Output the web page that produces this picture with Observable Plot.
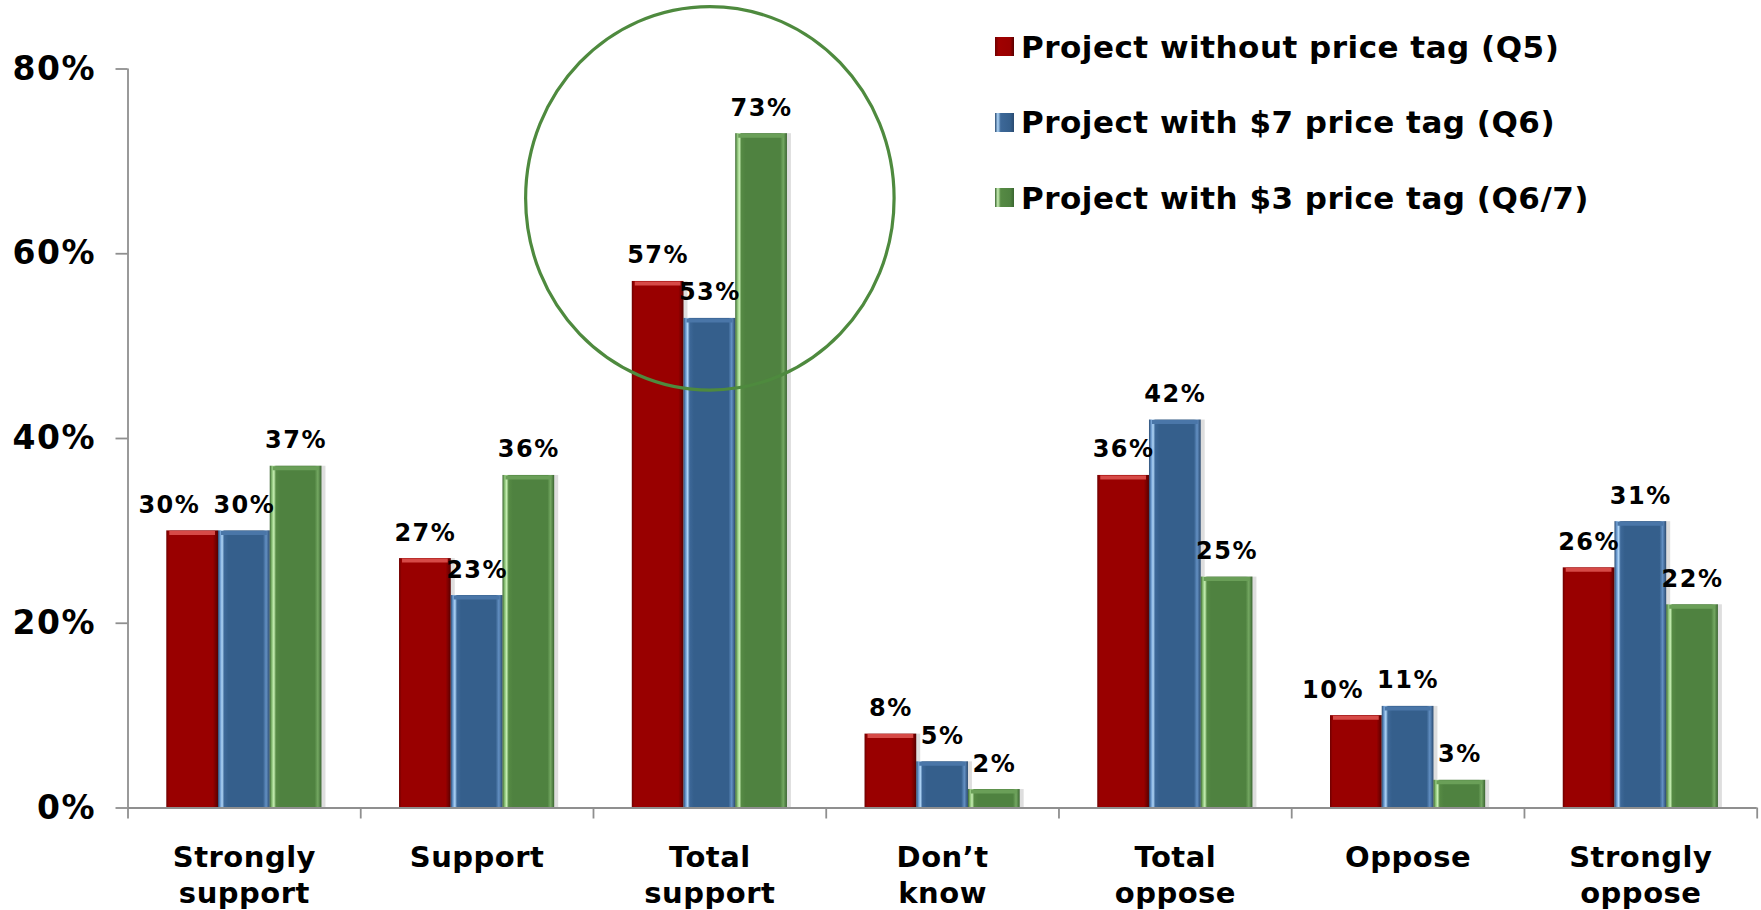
<!DOCTYPE html>
<html><head><meta charset="utf-8">
<script src="https://cdn.jsdelivr.net/npm/d3@7"></script>
<script src="https://cdn.jsdelivr.net/npm/@observablehq/plot@0.6"></script>
<style>
html,body{margin:0;padding:0;background:#fff;}
#wrap{position:relative;width:1761px;height:910px;font-family:"DejaVu Sans",sans-serif;font-weight:bold;}
#legend{position:absolute;left:995px;top:9px;}
.row{display:flex;align-items:center;height:75.5px;font-size:31px;letter-spacing:0.5px;color:#000;white-space:nowrap;}
.sw{width:19px;height:19px;margin-right:7px;box-sizing:border-box;}
</style></head><body>
<div id="wrap"><div id="legend"></div></div>
<script>
// ---- data ----
const categories = ["Strongly support", "Support", "Total support", "Don’t know", "Total oppose", "Oppose", "Strongly oppose"];
const tickLabels = ["Strongly\nsupport", "Support", "Total\nsupport", "Don’t\nknow", "Total\noppose", "Oppose", "Strongly\noppose"];
const seriesNames = ["Project without price tag (Q5)", "Project with $7 price tag (Q6)", "Project with $3 price tag (Q6/7)"];
const withoutPriceTag = [30, 27, 57, 8, 36, 10, 26];
const with7PriceTag = [30, 23, 53, 5, 42, 11, 31];
const with3PriceTag = [37, 36, 73, 2, 25, 3, 22];
const yTicks = [0, 20, 40, 60, 80];
const highlight = [{category: "Total support", value: 66}];

// ---- styles ----
const axisGray = "#8f8f8f";
const gradients = [
  [[0,"#6e0000"],[0.05,"#990000"],[0.9,"#990000"],[0.95,"#7a0000"],[1,"#560000"]],
  [[0,"#2a4b72"],[0.04,"#6796cc"],[0.08,"#b0d6f8"],[0.12,"#3d6898"],[0.2,"#355f8c"],[0.87,"#355f8c"],[0.93,"#6390c3"],[1,"#2a4a70"]],
  [[0,"#3a6530"],[0.04,"#86bd72"],[0.08,"#c8f0b4"],[0.12,"#568a44"],[0.2,"#4f8240"],[0.87,"#4f8240"],[0.93,"#74a862"],[1,"#3a6530"]]
];
const topColors = ["#d64a47", "#4a76a8", "#6a9f58"];
const swatchCss = [
  "linear-gradient(90deg,#6e0000,#a00000 20%,#990000 80%,#560000)",
  "linear-gradient(90deg,#2a4b72,#b0d6f8 15%,#3d6898 30%,#355f8c 80%,#2a4a70)",
  "linear-gradient(90deg,#3a6530,#c8f0b4 15%,#568a44 30%,#4f8240 80%,#3a6530)"
];
const fontY = 33, fontX = 29, fontLabel = 24;

// ---- table ----
const seriesValues = [withoutPriceTag, with7PriceTag, with3PriceTag];
const rows = seriesNames.flatMap((s, si) => categories.map((c, ci) => ({category: c, ci, series: s, si, value: seriesValues[si][ci]})));
const groupWidth = 2 / 3, barW = groupWidth / 3;
const x1 = d => d.ci - groupWidth / 2 + d.si * barW;
const x2 = d => x1(d) + barW;
// nudge a label left when it would collide with its right-hand neighbour
const labelX = d => {
  const mid = x1(d) + barW / 2;
  if (d.si < 2 && Math.abs(seriesValues[d.si + 1][d.ci] - d.value) < 3) return mid - 0.1;
  return mid;
};
const boundaries = d3.range(categories.length + 1).map(i => i - 0.5);

const ellipse = {draw(ctx, size) {
  const r = Math.sqrt(size / Math.PI), rx = r * 0.98, ry = r * 1.02, k = 0.5523;
  ctx.moveTo(rx, 0);
  ctx.bezierCurveTo(rx, k * ry, k * rx, ry, 0, ry);
  ctx.bezierCurveTo(-k * rx, ry, -rx, k * ry, -rx, 0);
  ctx.bezierCurveTo(-rx, -k * ry, -k * rx, -ry, 0, -ry);
  ctx.bezierCurveTo(k * rx, -ry, rx, -k * ry, rx, 0);
  ctx.closePath();
}};

const marks = [];
marks.push(Plot.rectY(rows, {x1, x2, y1: 0, y2: "value", fill: "#000", fillOpacity: 0.13, dx: 4}));
seriesNames.forEach((s, si) => {
  const sub = rows.filter(d => d.si === si);
  marks.push(Plot.rectY(sub, {x1, x2, y1: 0, y2: "value", fill: `url(#barGrad${si})`}));
  marks.push(Plot.ruleY(sub, {x1, x2, y: "value", stroke: topColors[si], strokeWidth: 4, dy: 2, insetLeft: 3, insetRight: 3}));
});
marks.push(Plot.ruleY([0], {stroke: axisGray, strokeWidth: 1.8}));
marks.push(Plot.ruleX([boundaries[0]], {y1: 0, y2: yTicks[yTicks.length - 1], stroke: axisGray, strokeWidth: 1.8}));
marks.push(Plot.axisY({ticks: yTicks, tickFormat: d => d + "%", tickSize: 12, tickPadding: 20, fontSize: fontY, stroke: axisGray, strokeWidth: 1.8, label: null}));
marks.push(Plot.axisX({ticks: d3.range(categories.length), tickFormat: i => tickLabels[i], tickSize: 0, tickPadding: 33, fontSize: fontX, lineHeight: 1.25, label: null}));
marks.push(Plot.axisX({ticks: boundaries, tickFormat: () => "", tickSize: 11, stroke: axisGray, strokeWidth: 1.8, label: null}));
marks.push(Plot.text(rows, {x: labelX, y: "value", text: d => d.value + "%", lineAnchor: "bottom", dy: -18, fontSize: fontLabel, fill: "#000"}));
marks.push(Plot.dot(highlight, {x: d => categories.indexOf(d.category), y: "value", r: 188, symbol: ellipse, stroke: "#4e8a3e", strokeWidth: 3.2, fill: "none"}));

const chart = Plot.plot({
  width: 1761,
  height: 910,
  marginLeft: 127.5,
  marginRight: 4.3,
  marginTop: 68.5,
  marginBottom: 102.5,
  x: {domain: [boundaries[0], boundaries[boundaries.length - 1]]},
  y: {domain: [yTicks[0], yTicks[yTicks.length - 1]]},
  style: {fontFamily: "DejaVu Sans", fontWeight: "bold", background: "#fff", color: "#000", overflow: "visible"},
  marks
});

// gradient definitions for the bevelled bars
const defs = d3.select(chart).insert("defs", ":first-child");
gradients.forEach((stops, i) => {
  const g = defs.append("linearGradient").attr("id", `barGrad${i}`).attr("x1", 0).attr("x2", 1).attr("y1", 0).attr("y2", 0);
  stops.forEach(([o, c]) => g.append("stop").attr("offset", o).attr("stop-color", c));
});
d3.select(chart).selectAll(`g[font-size="${fontY}"]`).style("letter-spacing", "1.5px");
d3.select(chart).selectAll(`g[font-size="${fontX}"]`).style("letter-spacing", "0.5px");
d3.select(chart).selectAll(`g[font-size="${fontLabel}"]`).style("letter-spacing", "1.5px");

const wrap = document.getElementById("wrap");
wrap.insertBefore(chart, wrap.firstChild);
const legend = d3.select("#legend");
seriesNames.forEach((s, i) => {
  const row = legend.append("div").attr("class", "row");
  row.append("div").attr("class", "sw").style("background", swatchCss[i]);
  row.append("span").text(s);
});
</script>
</body></html>
